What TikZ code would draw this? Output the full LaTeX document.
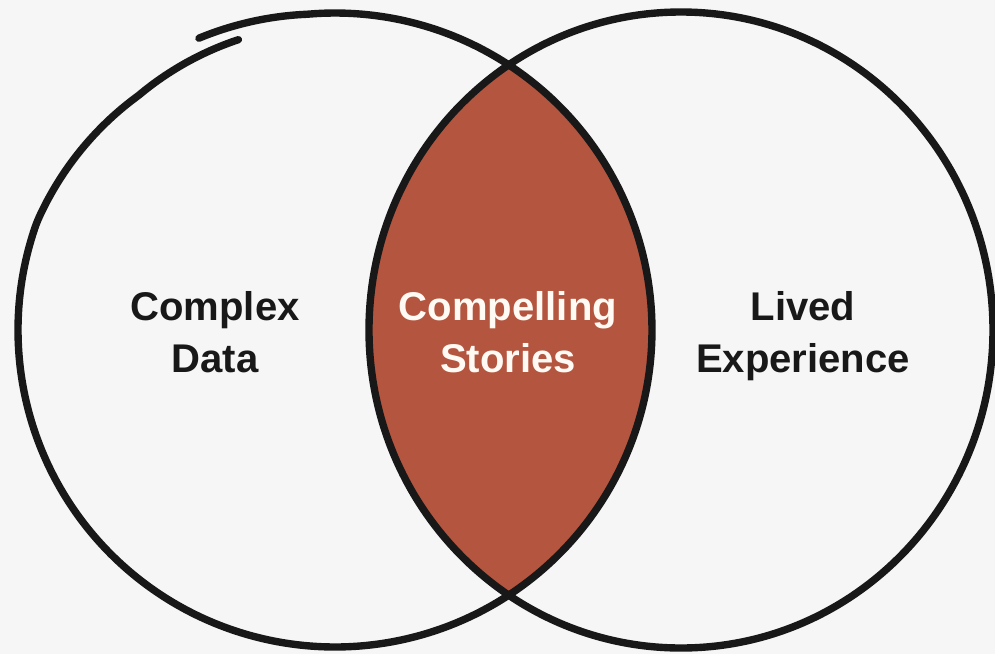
\documentclass[tikz,border=0pt]{standalone}
\usepackage{fontspec}
\setmainfont{Liberation Sans}
\usepackage{xcolor}
\definecolor{vennbg}{RGB}{246,246,246}
\definecolor{vennink}{RGB}{24,24,24}
\definecolor{vennrust}{RGB}{180,85,63}
\definecolor{venncream}{RGB}{255,250,244}

\tikzset{
  vennline/.style={line width=2.1pt, draw=vennink, line cap=round, line join=round},
  setname/.style={font=\bfseries\fontsize{11.4}{14.7}\selectfont, align=center, text=vennink, inner sep=0pt},
  declare function={rleft(\t)=3.17+0.05*max(0,(\t-95)/20)-0.11*min(1,max(0,(-200-\t)/30));}
}

\begin{document}
\begin{tikzpicture}
  % canvas
  \fill[vennbg] (0,0) rectangle (9.95,6.54);
  \useasboundingbox (0,0) rectangle (9.95,6.54);

  \coordinate (leftc) at (3.35,3.24);
  \coordinate (rightc) at (6.81,3.24);

  % overlap
  \begin{scope}
    \clip (leftc) circle (3.17);
    \fill[vennrust] (rightc) ellipse (3.12 and 3.18);
  \end{scope}

  % left set, sketched with overlapping ends
  \draw[vennline, shift={(leftc)}] plot[smooth, samples=240, domain=115:-251.6] (\x:{rleft(\x)});
  % right set
  \draw[vennline] (rightc) ellipse (3.12 and 3.18);

  % set names
  \node[setname, anchor=base] (data) at (2.15,2.82) {Complex\\Data};
  \node[setname, anchor=base, text=venncream] (stories) at (5.08,2.82) {Compelling\\Stories};
  \node[setname, anchor=base] (lived) at (8.03,2.82) {Lived\\Experience};
\end{tikzpicture}
\end{document}
